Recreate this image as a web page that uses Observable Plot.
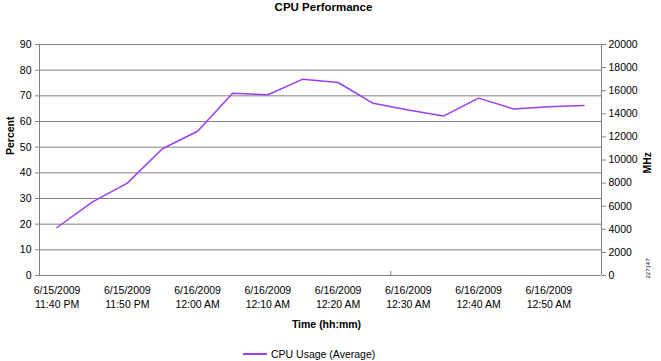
<!DOCTYPE html>
<html>
<head>
<meta charset="utf-8">
<script src="https://cdn.jsdelivr.net/npm/d3@7"></script>
<script src="https://cdn.jsdelivr.net/npm/@observablehq/plot@0.6"></script>
<style>
  html, body { margin: 0; padding: 0; background: white; }
  #chart { width: 661px; }
  .legend { position: relative; width: 661px; height: 21px; font-family: 'Liberation Sans', Arial, sans-serif; font-size: 10.5px; color: black; }
  .legend .sw { position: absolute; left: 243px; top: 13px; width: 24px; height: 1.5px; background: #9d3cf0; }
  .legend .lb { position: absolute; left: 271px; top: 8px; line-height: 12px; white-space: nowrap; }
</style>
</head>
<body>
<div id="chart"></div>
<script>
const title = "CPU Performance";
const dates = ["6/15/2009","6/15/2009","6/15/2009","6/15/2009","6/16/2009","6/16/2009","6/16/2009","6/16/2009",
               "6/16/2009","6/16/2009","6/16/2009","6/16/2009","6/16/2009","6/16/2009","6/16/2009","6/16/2009"];
const clockTimes = ["11:40 PM","11:45 PM","11:50 PM","11:55 PM","12:00 AM","12:05 AM","12:10 AM","12:15 AM",
                    "12:20 AM","12:25 AM","12:30 AM","12:35 AM","12:40 AM","12:45 AM","12:50 AM","12:55 AM"];
const cpuPercent = [18.7, 28.6, 36.0, 49.4, 56.2, 71.0, 70.4, 76.5, 75.2, 67.1, 64.5, 62.1, 69.1, 64.9, 65.7, 66.2];
const percentTicks = [0, 10, 20, 30, 40, 50, 60, 70, 80, 90];
const mhzTicks = [0, 2000, 4000, 6000, 8000, 10000, 12000, 14000, 16000, 18000, 20000];
const mhzMax = 20000;
const pctMax = 90;
const seriesName = "CPU Usage (Average)";
const xTitle = "Time (hh:mm)";
const yLeftTitle = "Percent";
const yRightTitle = "MHz";
const figId = "227147";

const data = clockTimes.map((t, i) => ({i, date: dates[i], time: t, pct: cpuPercent[i]}));
const labelIdx = d3.range(0, clockTimes.length, 2);
const lineColor = "#9d3cf0";
const gray = "#808080";

const chart = Plot.plot({
  width: 661,
  height: 340,
  marginLeft: 39,
  marginRight: 60,
  marginTop: 44,
  marginBottom: 65,
  style: {fontFamily: "'Liberation Sans', Arial, sans-serif", fontSize: "10.5px", background: "white", color: "black"},
  x: {type: "linear", domain: [-0.5, clockTimes.length - 0.5]},
  y: {domain: [0, pctMax]},
  marks: [
    Plot.gridY(percentTicks, {stroke: gray, strokeOpacity: 1}),
    Plot.ruleX([-0.5, clockTimes.length - 0.5], {stroke: gray}),
    Plot.ruleY([0], {stroke: gray}),
    Plot.axisY(percentTicks, {anchor: "left", tickSize: 4, tickPadding: 4, stroke: gray, fill: "black", label: null}),
    Plot.axisY(mhzTicks.map(v => v * pctMax / mhzMax), {anchor: "right", tickSize: 4, tickPadding: 3, stroke: gray, fill: "black",
      tickFormat: d => String(Math.round(d * mhzMax / pctMax)), label: null}),
    Plot.axisX(labelIdx, {anchor: "bottom", tickSize: 0, tickPadding: 9, fill: "black", lineHeight: 1.33,
      tickFormat: i => dates[i] + "\n" + clockTimes[i], label: null}),
    Plot.axisX([9.5], {anchor: "bottom", tickSize: -4, stroke: gray, tickFormat: () => "", label: null}),
    Plot.line(data, {x: "i", y: "pct", stroke: lineColor, strokeWidth: 1.5}),
    Plot.text([title], {text: d => d, frameAnchor: "top", lineAnchor: "middle", dy: -37, dx: 3, fontWeight: "bold", fontSize: 11.5}),
    Plot.text([yLeftTitle], {text: d => d, frameAnchor: "left", rotate: -90, dx: -29, dy: -5, fontWeight: "bold"}),
    Plot.text([yRightTitle], {text: d => d, frameAnchor: "right", rotate: -90, dx: 46, dy: -8, fontWeight: "bold"}),
    Plot.text([xTitle], {text: d => d, frameAnchor: "bottom", lineAnchor: "middle", dy: 49, dx: 6, fontWeight: "bold"}),
    Plot.text([figId], {text: d => d, frameAnchor: "bottom-right", lineAnchor: "middle", rotate: -90, dx: 47, dy: -17, fontSize: 6})
  ]
});
document.getElementById("chart").appendChild(chart);

const legend = document.createElement("div");
legend.className = "legend";
legend.innerHTML = `<span class="sw"></span><span class="lb"></span>`;
legend.querySelector(".lb").textContent = seriesName;
document.body.appendChild(legend);
</script>
</body>
</html>
